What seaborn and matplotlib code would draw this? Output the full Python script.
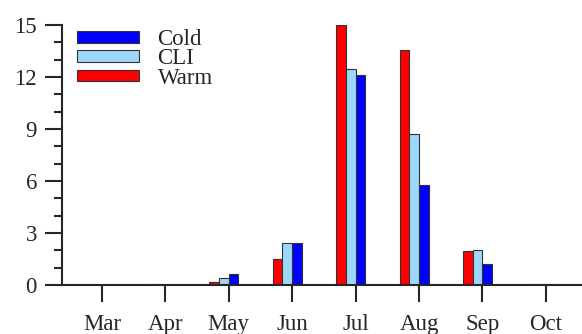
import numpy as np
import pandas as pd
import matplotlib
matplotlib.use('Agg')
import matplotlib.pyplot as plt
import seaborn as sns

# --- data ---
months = ['Mar', 'Apr', 'May', 'Jun', 'Jul', 'Aug', 'Sep', 'Oct']
warm = [0.0, 0.07, 0.2, 1.5, 15.0, 13.55, 1.98, 0.08]
cli = [0.0, 0.05, 0.4, 2.4, 12.45, 8.7, 2.02, 0.06]
cold = [0.0, 0.0, 0.65, 2.45, 12.12, 5.77, 1.23, 0.07]

df = pd.DataFrame({
    'month': months * 3,
    'value': warm + cli + cold,
    'case': ['Warm'] * 8 + ['CLI'] * 8 + ['Cold'] * 8,
})

sns.set_style('ticks')
plt.rcParams['font.family'] = ['Liberation Serif', 'DejaVu Serif']
plt.rcParams['font.size'] = 16.5

colors = {'Warm': '#ff0000', 'CLI': '#9cd8fc', 'Cold': '#0000ff'}
width = 0.46

fig = plt.figure(figsize=(5.82, 3.34), dpi=100)
ax = fig.add_axes([0.1065, 0.1467, 0.8935, 0.7783])

sns.barplot(data=df, x='month', y='value', hue='case', order=months,
            hue_order=['Warm', 'CLI', 'Cold'], palette=colors, width=width,
            edgecolor='#333333', linewidth=0.8, saturation=1, ax=ax)

# tick sits between the CLI and Cold bars
off = width / 6
ax.set_xticks(np.arange(len(months)) + off)
ax.set_xticklabels(months)
ax.set_xlim(off - 0.63, off + 7.57)
ax.set_ylim(0, 15)
ax.set_yticks(np.arange(0, 16, 3))
ax.set_yticks(np.arange(0, 16, 1), minor=True)
ax.set_xlabel('')
ax.set_ylabel('')

for s in ['top', 'right']:
    ax.spines[s].set_visible(False)
for s in ['left', 'bottom']:
    ax.spines[s].set_linewidth(1.5)
ax.tick_params(axis='both', which='major', direction='out', length=12, width=1.5,
               labelsize=16.5, pad=6)
ax.tick_params(axis='y', which='minor', direction='out', length=6, width=1.5)
ax.tick_params(axis='x', which='major', pad=9)

handles, labels = ax.get_legend_handles_labels()
order = [labels.index(k) for k in ['Cold', 'CLI', 'Warm']]
ax.legend([handles[i] for i in order], [labels[i] for i in order],
          loc='upper left', bbox_to_anchor=(0.012, 1.02), frameon=False,
          handlelength=2.7, handleheight=0.4, labelspacing=-0.07,
          handletextpad=0.8, fontsize=16.5, borderaxespad=0.0)

fig.savefig('out.png', dpi=100)
